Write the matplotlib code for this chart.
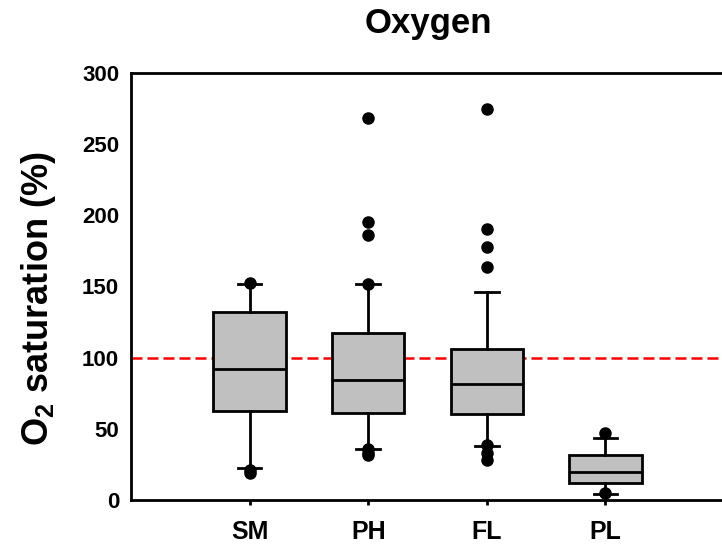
import matplotlib.pyplot as plt

plt.rcParams['font.family'] = ['Liberation Sans', 'DejaVu Sans']
plt.rcParams['font.weight'] = 'bold'
plt.rcParams['mathtext.fontset'] = 'custom'
plt.rcParams['mathtext.rm'] = 'Liberation Sans:bold'
plt.rcParams['mathtext.default'] = 'rm'

# box statistics
groups = ['SM', 'PH', 'FL', 'PL']
q1 = [62.5, 61.4, 60.4, 11.7]
medians = [91.8, 84.3, 81.5, 19.9]
q3 = [131.9, 117.6, 105.9, 31.6]
whislo = [22.3, 35.8, 38.2, 4.0]
whishi = [151.8, 151.8, 146.4, 43.8]
outliers = [
    [152.5, 21.0, 19.0],
    [268.5, 195.0, 186.0, 152.0, 36.0, 33.0, 31.5],
    [274.7, 190.2, 178.0, 164.0, 38.6, 32.8, 28.1],
    [46.8, 4.7],
]
reference_level = 100

stats = []
for i, name in enumerate(groups):
    stats.append({'label': name, 'q1': q1[i], 'med': medians[i], 'q3': q3[i],
                  'whislo': whislo[i], 'whishi': whishi[i], 'fliers': outliers[i]})

fig = plt.figure(figsize=(7.22, 5.48), dpi=100)
ax = fig.add_axes([131 / 722, 48 / 548, 593 / 722, 427 / 548])

line = dict(color='black', linewidth=2)
ax.bxp(stats, positions=[1, 2, 3, 4], widths=0.61, capwidths=0.2,
       patch_artist=True,
       boxprops=dict(facecolor='#C0C0C0', edgecolor='black', linewidth=2),
       medianprops=line, whiskerprops=line, capprops=line,
       flierprops=dict(marker='o', markerfacecolor='black', markeredgecolor='black',
                       markersize=8, linestyle='none'))

ax.axhline(reference_level, color='red', linewidth=1.8, dashes=(4.4, 2.0), zorder=0.5)

ax.set_xlim(0, 5)
ax.set_ylim(0, 300)
ax.set_yticks(range(0, 301, 50))
ax.tick_params(axis='y', length=0, pad=8.5, labelsize=16)
ax.tick_params(axis='x', length=3.6, width=2, direction='out', pad=11, labelsize=18)
for lbl in ax.get_xticklabels() + ax.get_yticklabels():
    lbl.set_fontweight('bold')

for side in ['left', 'bottom', 'top']:
    ax.spines[side].set_linewidth(2)
ax.spines['right'].set_visible(False)

ax.set_ylabel(r'O$_2$ saturation (%)', fontsize=26, fontweight='bold')
ax.yaxis.set_label_coords(-0.123, 0.472)

fig.text(428 / 722, 1 - 33 / 548, 'Oxygen', ha='center', va='baseline',
         fontsize=25, fontweight='bold')

fig.savefig('out.png', dpi=100)
